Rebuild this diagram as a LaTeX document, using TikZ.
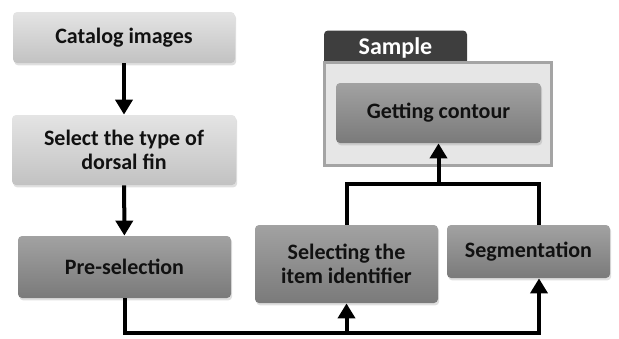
\documentclass[tikz,border=0pt]{standalone}
\usepackage{fontspec}
\setmainfont{Carlito}
\usetikzlibrary{arrows.meta,positioning,calc,shadows}
\definecolor{lighttop}{HTML}{E4E4E4}
\definecolor{lightbot}{HTML}{C2C2C2}
\definecolor{darktop}{HTML}{A2A2A2}
\definecolor{darkbot}{HTML}{7A7A7A}
\definecolor{tabgray}{HTML}{3E3E3E}
\definecolor{panelfill}{HTML}{E6E6E6}
\definecolor{panelline}{HTML}{A4A4A4}
\definecolor{inkgray}{HTML}{111111}
\tikzset{
  box style/.style={rectangle, rounded corners=2pt, align=center, text=inkgray,
    font=\fontsize{11}{12}\selectfont\bfseries,
    drop shadow={shadow xshift=0.6pt, shadow yshift=-1.2pt, opacity=0.25}},
  light style/.style={box style, top color=lighttop, bottom color=lightbot},
  dark style/.style={box style, top color=darktop, bottom color=darkbot},
  arr style/.style={-{Triangle[length=7.5pt,width=8.5pt]}, line width=2pt},
  ln style/.style={line width=2pt}
}

\begin{document}
\begin{tikzpicture}[x=0.5pt, y=-0.5pt]
\useasboundingbox (0,0) rectangle (619,338);

% left column
\node[light style, minimum width=111pt, minimum height=25.5pt] (cat) at (124,37.5)
  {Catalog images};
\node[light style, minimum width=112pt, minimum height=35pt] (dorsal) at (124,150)
  {Select the type of\\dorsal fin};
\node[dark style, minimum width=106.5pt, minimum height=31pt] (presel) at (124.5,267)
  {Pre-selection};

% right part
\node[dark style, minimum width=91.5pt, minimum height=39pt] (item) at (346.5,264)
  {Selecting the\\item identifier};
\node[dark style, minimum width=81.5pt, minimum height=26.5pt] (segm) at (528.5,251.5)
  {Segmentation};

% sample panel
\node[rectangle, rounded corners=2pt, fill=tabgray, minimum width=71.5pt, minimum height=17pt,
  text=white, font=\fontsize{12}{13}\selectfont\bfseries] (samptab) at (395.5,47.5) {Sample};
\node[rectangle, fill=panelfill, draw=panelline, line width=1.5pt,
  minimum width=113.5pt, minimum height=51.5pt] (sampbox) at (437.5,113.5) {};
\node[dark style, minimum width=102.5pt, minimum height=30pt] (contour) at (438.5,113)
  {Getting contour};

\draw[arr style] (cat) -- (dorsal);
\draw[arr style] (dorsal) -- (presel);

\coordinate (low) at (item.south |- 0,333);
\coordinate (high) at (contour.south |- 0,184);
\draw[arr style] (presel.south) |- (low) -| ([xshift=5.25pt]segm.south);
\draw[arr style] (low) -- (item.south);
\draw[ln style] (item.north) |- (high) -| ([xshift=5.25pt]segm.north);
\draw[arr style] (high) -- (contour.south);

\end{tikzpicture}
\end{document}
